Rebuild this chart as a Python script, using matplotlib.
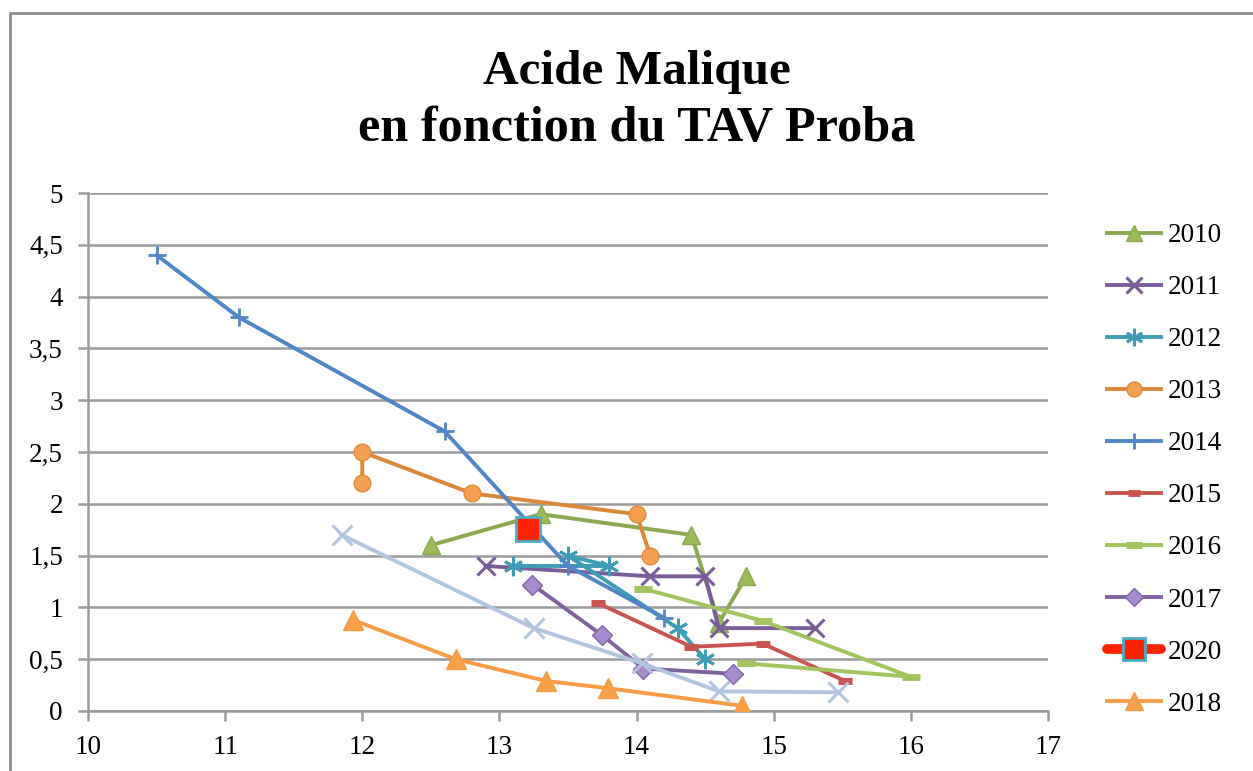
import matplotlib
matplotlib.use("Agg")
import matplotlib.pyplot as plt
from matplotlib.patches import Rectangle

# ---- data ----
x2010 = [12.5, 13.3, 14.4, 14.6, 14.8]
y2010 = [1.6, 1.9, 1.7, 0.85, 1.3]
x2011 = [12.9, 14.1, 14.5, 14.6, 15.3]
y2011 = [1.4, 1.3, 1.3, 0.8, 0.8]
x2012 = [13.1, 13.8, 13.5, 14.3, 14.5]
y2012 = [1.4, 1.4, 1.5, 0.8, 0.5]
x2013 = [12.0, 12.0, 12.8, 14.0, 14.1]
y2013 = [2.2, 2.5, 2.1, 1.9, 1.5]
x2014 = [10.5, 11.1, 12.6, 13.5, 14.2]
y2014 = [4.4, 3.8, 2.7, 1.4, 0.9]
x2015 = [13.72, 14.4, 14.92, 15.52]
y2015 = [1.04, 0.62, 0.65, 0.29]
x2016 = [14.05, 14.92, 16.0, 14.8]
y2016 = [1.18, 0.87, 0.33, 0.46]
x2017 = [13.24, 13.75, 14.05, 14.7]
y2017 = [1.22, 0.73, 0.41, 0.36]
x2020 = [13.21]
y2020 = [1.76]
x2018 = [11.93, 12.68, 13.34, 13.79, 14.77]
y2018 = [0.88, 0.5, 0.29, 0.22, 0.05]
x2019 = [11.85, 13.25, 14.04, 14.6, 15.47]
y2019 = [1.7, 0.8, 0.46, 0.19, 0.18]

xticks = [10, 11, 12, 13, 14, 15, 16, 17]
xtick_labels = ["10", "11", "12", "13", "14", "15", "16", "17"]
yticks = [0, 0.5, 1, 1.5, 2, 2.5, 3, 3.5, 4, 4.5, 5]
ytick_labels = ["0", "0,5", "1", "1,5", "2", "2,5", "3", "3,5", "4", "4,5", "5"]

title_lines = ["Acide Malique", "en fonction du TAV Proba"]

SERIF = "Liberation Serif"

fig = plt.figure(figsize=(12.53, 7.71), dpi=100)
ax = fig.add_axes([88 / 1253, 1 - 711 / 771, (1048 - 88) / 1253, (711 - 193) / 771])

lw = 2.8
asterisk = (6, 2, 0)

ax.plot(x2010, y2010, color="#8AA84E", lw=lw, marker="^", ms=13,
        mfc="#9BBB59", mec="#8AA84E", label="2010", zorder=3)
ax.plot(x2011, y2011, color="#7A5C9B", lw=lw, marker="x", ms=13, mew=2.2,
        label="2011", zorder=3)
ax.plot(x2012, y2012, color="#3E9CB5", lw=lw, marker=asterisk, ms=14, mew=2.0,
        label="2012", zorder=3)
ax.plot(x2013, y2013, color="#DA8739", lw=lw, marker="o", ms=12,
        mfc="#F4A050", mec="#E08A3A", label="2013", zorder=3)
ax.plot(x2014, y2014, color="#4F86C6", lw=lw, marker="+", ms=13, mew=2.0,
        label="2014", zorder=3)
ax.plot(x2015, y2015, color="#C9534E", lw=lw, marker="_", ms=10, mew=5,
        label="2015", zorder=3)
ax.plot(x2016, y2016, color="#A2C45E", lw=lw, marker="_", ms=13, mew=5,
        label="2016", zorder=3)
ax.plot(x2017, y2017, color="#7E62A0", lw=lw, marker="D", ms=10,
        mfc="#A58BCE", mec="#8268A6", label="2017", zorder=3)
ax.plot(x2019, y2019, color="#B3C5DE", lw=lw, marker="x", ms=14, mew=2.2,
        zorder=3)
ax.plot(x2020, y2020, color="#FF2200", lw=7, marker="s", ms=17,
        mfc="#FF2200", mec="#4BACC6", mew=2, label="2020", zorder=5,
        solid_capstyle="round")
ax.plot(x2018, y2018, color="#F79B45", lw=lw, marker="^", ms=14,
        mfc="#F9A04B", mec="#F79B45", label="2018", zorder=3)

ax.set_xlim(10, 17)
ax.set_ylim(0, 5)
ax.set_xticks(xticks)
ax.set_xticklabels(xtick_labels)
ax.set_yticks(yticks)
ax.set_yticklabels(ytick_labels)
for lab in ax.get_xticklabels() + ax.get_yticklabels():
    lab.set_fontfamily(SERIF)
    lab.set_fontsize(19.5)
    lab.set_color("black")

grid_c = "#9A9A9A"
ax.yaxis.grid(True, color=grid_c, lw=1.8)
ax.xaxis.grid(False)
ax.set_axisbelow(True)
for s in ["top", "right"]:
    ax.spines[s].set_visible(False)
for s in ["left", "bottom"]:
    ax.spines[s].set_color(grid_c)
    ax.spines[s].set_linewidth(1.8)
ax.tick_params(axis="both", direction="out", length=7, width=1.8, color=grid_c)
ax.tick_params(axis="x", pad=10)
ax.tick_params(axis="y", pad=11)

leg = ax.legend(loc="upper left", bbox_to_anchor=(1107 / 1253, 1 - 223 / 771),
                bbox_transform=fig.transFigure, frameon=False,
                prop={"family": SERIF, "size": 19.5}, handlelength=2.0,
                handletextpad=0.25, labelspacing=1.0, borderaxespad=0,
                borderpad=0, markerscale=0.9)

# titles
fig.text(637 / 1253, 1 - 72 / 771, title_lines[0], ha="center", va="center",
         fontfamily=SERIF, fontweight="bold", fontsize=35.5)
fig.text(637 / 1253, 1 - 129 / 771, title_lines[1], ha="center", va="center",
         fontfamily=SERIF, fontweight="bold", fontsize=36.2)

# outer chart frame
fig.patches.append(Rectangle((10 / 1253, -0.2), 1.5, 1.2 - 13 / 771,
                             transform=fig.transFigure, fill=False,
                             edgecolor="#8C8C8C", lw=2.0))

fig.savefig("out.png", dpi=100)
